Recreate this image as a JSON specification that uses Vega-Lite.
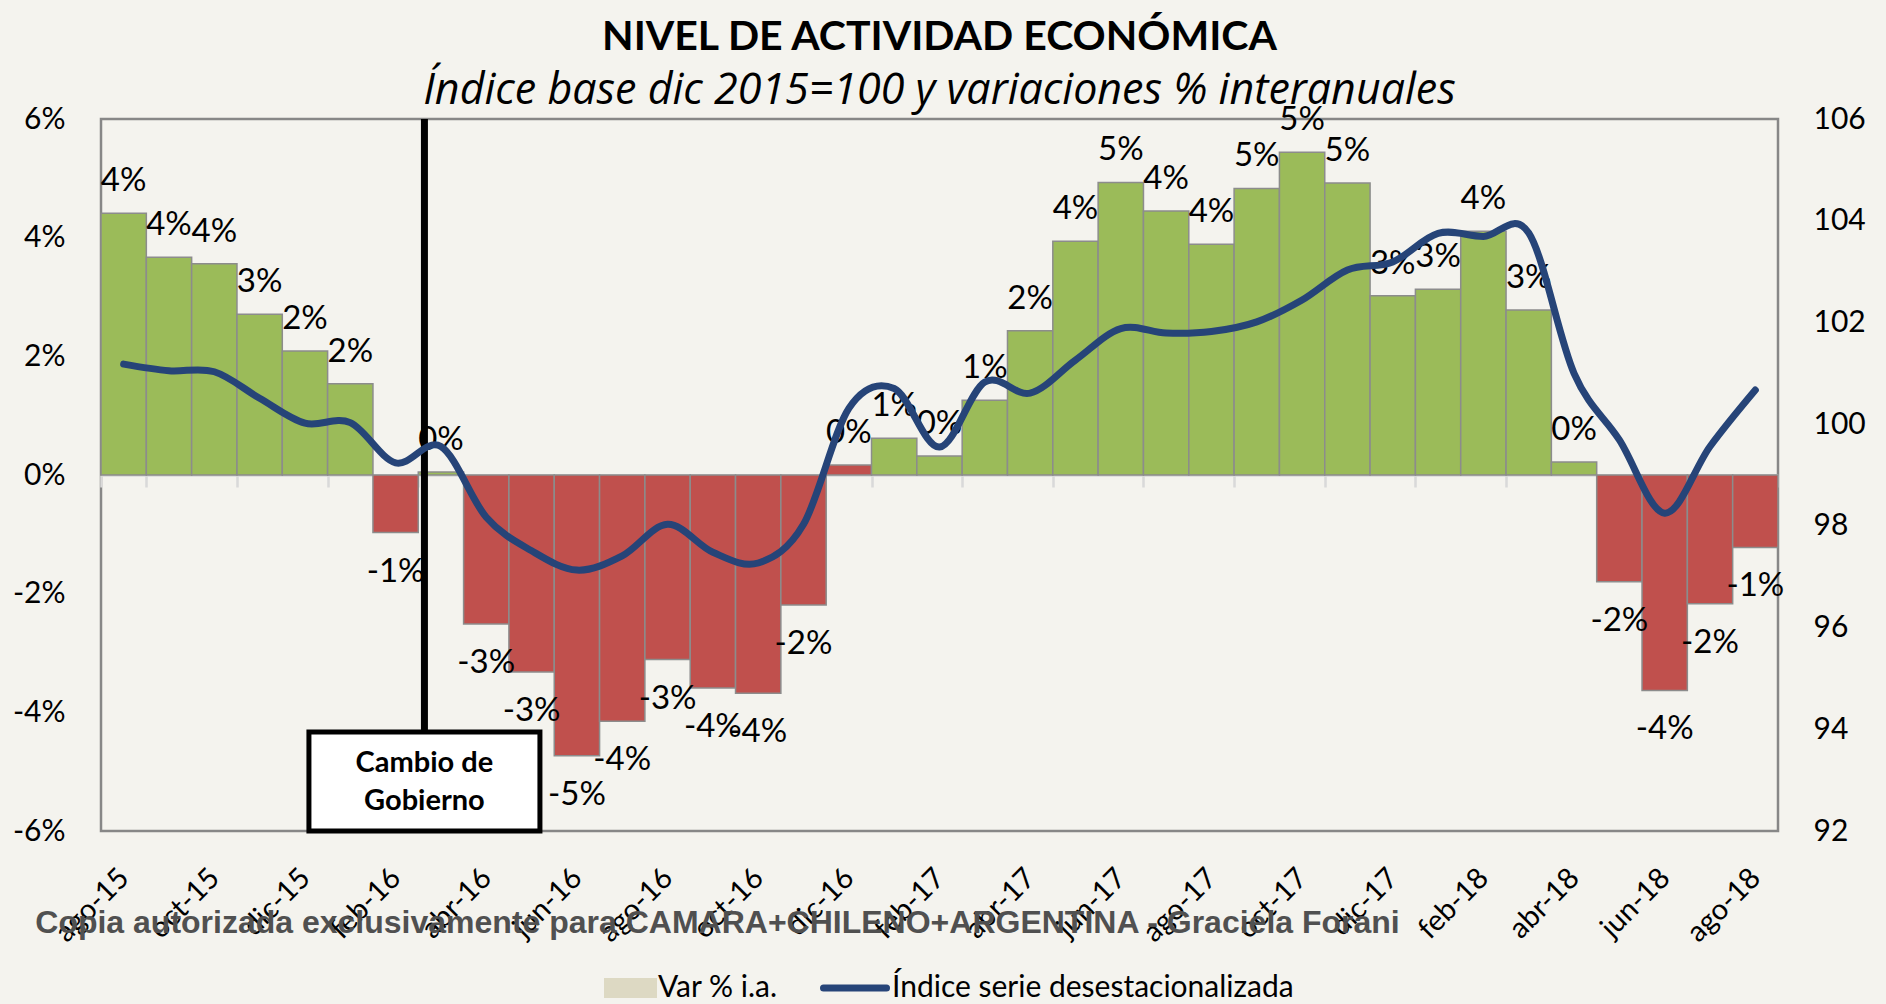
{
  "$schema": "https://vega.github.io/schema/vega-lite/v6.json",
  "width": 1677,
  "height": 712,
  "autosize": "none",
  "padding": {"left": 101, "top": 119, "right": 108, "bottom": 173},
  "background": "#f4f3ee",
  "config": {
    "view": {"stroke": "#878787", "strokeWidth": 2.5},
    "font": "Lato",
    "locale": {"number": {"decimal": ".", "thousands": ",", "grouping": [3], "currency": ["$", ""], "minus": "-"}}
  },
  "title": {
    "text": "NIVEL DE ACTIVIDAD ECONÓMICA",
    "subtitle": "Índice base dic 2015=100 y variaciones % interanuales",
    "font": "Lato", "fontSize": 41, "fontWeight": "bold", "color": "black",
    "subtitleFont": "Open Sans", "subtitleFontSize": 43, "subtitleFontStyle": "italic", "subtitleColor": "black",
    "anchor": "middle", "offset": -10, "subtitlePadding": 11
  },
  "data": {"values": [
    {"mes": "ago-15", "var": 0.0441, "indice": 101.18, "signo": "positivo"},
    {"mes": "sep-15", "var": 0.0367, "indice": 101.05, "signo": "positivo"},
    {"mes": "oct-15", "var": 0.0356, "indice": 101.03, "signo": "positivo"},
    {"mes": "nov-15", "var": 0.0271, "indice": 100.51, "signo": "positivo"},
    {"mes": "dic-15", "var": 0.0209, "indice": 100.02, "signo": "positivo"},
    {"mes": "ene-16", "var": 0.0154, "indice": 100.03, "signo": "positivo"},
    {"mes": "feb-16", "var": -0.0097, "indice": 99.24, "signo": "negativo"},
    {"mes": "mar-16", "var": 0.0005, "indice": 99.56, "signo": "positivo"},
    {"mes": "abr-16", "var": -0.0251, "indice": 98.17, "signo": "negativo"},
    {"mes": "may-16", "var": -0.0332, "indice": 97.51, "signo": "negativo"},
    {"mes": "jun-16", "var": -0.0473, "indice": 97.13, "signo": "negativo"},
    {"mes": "jul-16", "var": -0.0415, "indice": 97.41, "signo": "negativo"},
    {"mes": "ago-16", "var": -0.0311, "indice": 98.03, "signo": "negativo"},
    {"mes": "sep-16", "var": -0.0359, "indice": 97.48, "signo": "negativo"},
    {"mes": "oct-16", "var": -0.0368, "indice": 97.27, "signo": "negativo"},
    {"mes": "nov-16", "var": -0.0219, "indice": 98.03, "signo": "negativo"},
    {"mes": "dic-16", "var": 0.0017, "indice": 100.31, "signo": "negativo"},
    {"mes": "ene-17", "var": 0.0062, "indice": 100.70, "signo": "positivo"},
    {"mes": "feb-17", "var": 0.0032, "indice": 99.55, "signo": "positivo"},
    {"mes": "mar-17", "var": 0.0126, "indice": 100.83, "signo": "positivo"},
    {"mes": "abr-17", "var": 0.0243, "indice": 100.61, "signo": "positivo"},
    {"mes": "may-17", "var": 0.0394, "indice": 101.26, "signo": "positivo"},
    {"mes": "jun-17", "var": 0.0493, "indice": 101.88, "signo": "positivo"},
    {"mes": "jul-17", "var": 0.0445, "indice": 101.79, "signo": "positivo"},
    {"mes": "ago-17", "var": 0.0389, "indice": 101.82, "signo": "positivo"},
    {"mes": "sep-17", "var": 0.0483, "indice": 102.01, "signo": "positivo"},
    {"mes": "oct-17", "var": 0.0544, "indice": 102.44, "signo": "positivo"},
    {"mes": "nov-17", "var": 0.0492, "indice": 103.03, "signo": "positivo"},
    {"mes": "dic-17", "var": 0.0302, "indice": 103.19, "signo": "positivo"},
    {"mes": "ene-18", "var": 0.0313, "indice": 103.75, "signo": "positivo"},
    {"mes": "feb-18", "var": 0.0411, "indice": 103.69, "signo": "positivo"},
    {"mes": "mar-18", "var": 0.0278, "indice": 103.76, "signo": "positivo"},
    {"mes": "abr-18", "var": 0.0022, "indice": 101.0, "signo": "positivo"},
    {"mes": "may-18", "var": -0.0180, "indice": 99.69, "signo": "negativo"},
    {"mes": "jun-18", "var": -0.0363, "indice": 98.25, "signo": "negativo"},
    {"mes": "jul-18", "var": -0.0217, "indice": 99.56, "signo": "negativo"},
    {"mes": "ago-18", "var": -0.0122, "indice": 100.67, "signo": "negativo"}
  ]},
  "encoding": {
    "x": {
      "field": "mes", "type": "ordinal",
      "scale": {"type": "band", "paddingInner": 0, "paddingOuter": 0, "domain": ["ago-15","sep-15","oct-15","nov-15","dic-15","ene-16","feb-16","mar-16","abr-16","may-16","jun-16","jul-16","ago-16","sep-16","oct-16","nov-16","dic-16","ene-17","feb-17","mar-17","abr-17","may-17","jun-17","jul-17","ago-17","sep-17","oct-17","nov-17","dic-17","ene-18","feb-18","mar-18","abr-18","may-18","jun-18","jul-18","ago-18"]},
      "axis": {
        "values": ["ago-15","oct-15","dic-15","feb-16","abr-16","jun-16","ago-16","oct-16","dic-16","feb-17","abr-17","jun-17","ago-17","oct-17","dic-17","feb-18","abr-18","jun-18","ago-18"],
        "offset": -356,
        "tickBand": "extent",
        "tickSize": 12, "tickColor": "#d9d9d9", "tickWidth": 2.5,
        "domainColor": "#d9d9d9", "domainWidth": 2.5,
        "grid": false,
        "labelAngle": -45, "labelAlign": "right", "labelBaseline": "middle",
        "labelPadding": 386, "labelFont": "Lato", "labelFontSize": 29, "labelColor": "black",
        "labelOverlap": false,
        "title": "Copia autorizada exclusivamente para CAMARA+CHILENO+ARGENTINA - Graciela Forani",
        "titleFont": "Liberation Sans", "titleFontSize": 32, "titleFontWeight": "bold",
        "titleColor": "#505050", "titleX": 616, "titleY": 457, "titleAlign": "center",
        "titleBaseline": "alphabetic", "titleAnchor": null
      }
    }
  },
  "layer": [
    {
      "layer": [
        {
          "mark": {"type": "bar", "stroke": "#8c8c8c", "strokeWidth": 1.5},
          "encoding": {
            "y": {
              "field": "var", "type": "quantitative", "title": null,
              "scale": {"domain": [-0.06, 0.06], "nice": false},
              "axis": {"orient": "left", "format": ".0%", "values": [-0.06, -0.04, -0.02, 0, 0.02, 0.04, 0.06], "grid": false, "domain": false, "ticks": false, "tickSize": 0, "labelPadding": 36, "labelFont": "Lato", "labelFontSize": 30, "labelColor": "black"}
            },
            "fill": {"field": "signo", "type": "nominal", "scale": {"domain": ["positivo", "negativo"], "range": ["#9bbb59", "#c0504d"]}, "legend": null}
          }
        },
        {
          "transform": [{"filter": "datum['var'] >= 0"}],
          "mark": {"type": "text", "dy": -22, "baseline": "alphabetic", "align": "center", "font": "Lato", "fontSize": 33, "color": "black"},
          "encoding": {
            "y": {"field": "var", "type": "quantitative", "title": null},
            "text": {"field": "var", "type": "quantitative", "format": ".0%"}
          }
        },
        {
          "transform": [{"filter": "datum['var'] < 0"}],
          "mark": {"type": "text", "dy": 49, "baseline": "alphabetic", "align": "center", "font": "Lato", "fontSize": 33, "color": "black"},
          "encoding": {
            "y": {"field": "var", "type": "quantitative", "title": null},
            "text": {"field": "var", "type": "quantitative", "format": ".0%"}
          }
        },
        {
          "data": {"values": [{"mes": "mar-16", "etiqueta": "Cambio de\nGobierno"}]},
          "mark": {"type": "rule", "color": "black", "strokeWidth": 7, "xOffset": -16.5},
          "encoding": {
            "y": {"datum": 0.06},
            "y2": {"datum": -0.0433}
          }
        },
        {
          "data": {"values": [{"mes": "mar-16", "etiqueta": "Cambio de\nGobierno"}]},
          "mark": {"type": "bar", "width": 231, "xOffset": -16.5, "fill": "white", "stroke": "black", "strokeWidth": 5},
          "encoding": {
            "y": {"datum": -0.0433},
            "y2": {"datum": -0.06}
          }
        },
        {
          "data": {"values": [{"mes": "mar-16", "etiqueta": "Cambio de\nGobierno"}]},
          "mark": {"type": "text", "xOffset": -16.5, "lineBreak": "\n", "lineHeight": 37.6, "align": "center", "baseline": "alphabetic", "font": "Lato", "fontSize": 29, "fontWeight": "bold", "color": "black"},
          "encoding": {
            "y": {"datum": -0.0501},
            "text": {"field": "etiqueta", "type": "nominal"}
          }
        }
      ]
    },
    {
      "mark": {"type": "line", "interpolate": "cardinal", "strokeWidth": 7, "strokeCap": "round"},
      "encoding": {
        "y": {
          "field": "indice", "type": "quantitative", "title": null,
          "scale": {"domain": [92, 106], "nice": false, "zero": false},
          "axis": {"orient": "right", "values": [92, 94, 96, 98, 100, 102, 104, 106], "grid": false, "domain": false, "ticks": false, "tickSize": 0, "labelPadding": 35, "labelFont": "Lato", "labelFontSize": 30, "labelColor": "black"}
        },
        "color": {
          "datum": "Índice serie desestacionalizada", "type": "nominal",
          "scale": {"domain": ["Var % i.a.", "Índice serie desestacionalizada"], "range": ["#ddd9c3", "#264478"]},
          "legend": {
            "orient": "none", "legendX": 485, "legendY": 854, "direction": "horizontal",
            "title": null, "padding": 0, "symbolSize": 4900, "symbolStrokeWidth": 7,
            "labelFont": "Lato", "labelFontSize": 30, "labelColor": "black", "labelLimit": 800,
            "columnPadding": 31,
            "encode": {
              "symbols": {
                "update": {
                  "x": {"value": 35},
                  "y": {"value": 15},
                  "size": {"value": 4900},
                  "shape": {"signal": "datum.value === 'Var % i.a.' ? 'M-0.457,-0.257H1V0.257H-0.457Z' : 'M-0.9,0H0.9'"},
                  "fill": {"signal": "datum.value === 'Var % i.a.' ? '#ddd9c3' : 'transparent'"},
                  "stroke": {"signal": "datum.value === 'Var % i.a.' ? '#8c8c8c' : '#264478'"},
                  "strokeWidth": {"signal": "datum.value === 'Var % i.a.' ? 2 : 7"},
                  "strokeCap": {"value": "round"}
                }
              },
              "labels": {
                "update": {
                  "x": {"value": 72},
                  "y": {"value": 15},
                  "baseline": {"value": "middle"}
                }
              }
            }
          }
        }
      }
    }
  ],
  "resolve": {"scale": {"y": "independent"}}
}
